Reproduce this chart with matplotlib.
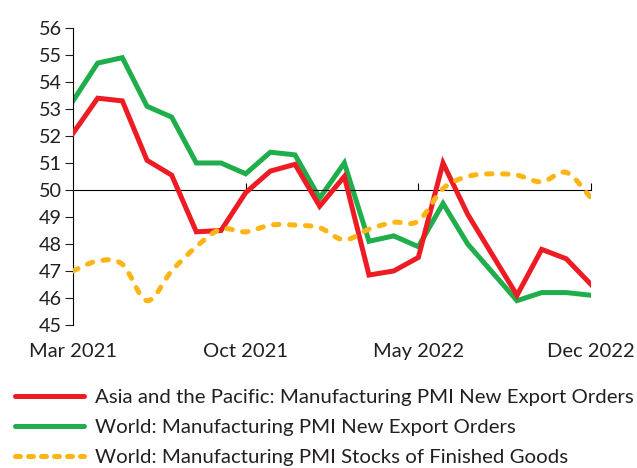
import matplotlib
matplotlib.use("Agg")
import matplotlib.pyplot as plt
from matplotlib.path import Path
from matplotlib.patches import PathPatch
from matplotlib.lines import Line2D
import numpy as np

# Meses Mar 2021 - Dec 2022
months = ["Mar 2021", "Apr 2021", "May 2021", "Jun 2021", "Jul 2021", "Aug 2021",
          "Sep 2021", "Oct 2021", "Nov 2021", "Dec 2021", "Jan 2022", "Feb 2022",
          "Mar 2022", "Apr 2022", "May 2022", "Jun 2022", "Jul 2022", "Aug 2022",
          "Sep 2022", "Oct 2022", "Nov 2022", "Dec 2022"]
asia_export = [52.1, 53.4, 53.3, 51.1, 50.55, 48.45, 48.5, 49.9, 50.7, 50.95, 49.4, 50.5,
               46.85, 47.0, 47.5, 51.0, 49.1, 47.6, 46.1, 47.8, 47.45, 46.5]
world_export = [53.3, 54.7, 54.9, 53.1, 52.7, 51.0, 51.0, 50.6, 51.4, 51.3, 49.7, 51.0,
                48.1, 48.3, 47.9, 49.5, 48.0, 46.95, 45.9, 46.2, 46.2, 46.1]
world_stocks = [47.0, 47.37, 47.25, 45.9, 47.0, 47.9, 48.55, 48.45, 48.7, 48.7, 48.6, 48.15,
                48.55, 48.8, 48.85, 50.05, 50.5, 50.6, 50.55, 50.3, 50.65, 49.7]
tick_idx = [0, 7, 14, 21]
labels = ["Asia and the Pacific: Manufacturing PMI New Export Orders",
          "World: Manufacturing PMI New Export Orders",
          "World: Manufacturing PMI Stocks of Finished Goods"]

RED = "#ED1C24"
GREEN = "#1FAE4B"
YELLOW = "#FDB515"
TXT = "#231F20"

plt.rcParams['font.family'] = ['Lato', 'DejaVu Sans']
plt.rcParams['font.size'] = 14

fig = plt.figure(figsize=(6.37, 4.68), dpi=100)
ax = fig.add_axes([0.1146, 0.3056, 0.8132, 0.6346])
x = np.arange(len(months))

ax.plot(x, asia_export, color=RED, lw=3.6, solid_joinstyle='miter', zorder=3)
ax.plot(x, world_export, color=GREEN, lw=3.6, solid_joinstyle='miter', zorder=2)

# Curva suavizada (Bezier) para la serie de inventarios
pts = np.column_stack([x, world_stocks]).astype(float)
verts = [pts[0]]
codes = [Path.MOVETO]
n = len(pts)
for i in range(n - 1):
    p0 = pts[i - 1] if i > 0 else pts[i]
    p1 = pts[i]
    p2 = pts[i + 1]
    p3 = pts[i + 2] if i + 2 < n else pts[i + 1]
    c1 = p1 + (p2 - p0) / 6.0
    c2 = p2 - (p3 - p1) / 6.0
    verts += [c1, c2, p2]
    codes += [Path.CURVE4] * 3
dash = (0, (1.1, 2.1))
patch = PathPatch(Path(verts, codes), fill=False, edgecolor=YELLOW, lw=3.6,
                  linestyle=dash, capstyle='round', zorder=4)
ax.add_patch(patch)

ax.set_xlim(0, 21)
ax.set_ylim(45, 56)
ax.set_yticks(range(45, 57))

# Eje x en 50
ax.spines['top'].set_visible(False)
ax.spines['right'].set_visible(False)
ax.spines['bottom'].set_position(('data', 50))
ax.spines['bottom'].set_linewidth(0.8)
ax.spines['left'].set_linewidth(0.8)
ax.set_xticks(tick_idx[1:])
ax.tick_params(axis='x', direction='in', length=5, width=0.8, labelbottom=False)
ax.tick_params(axis='y', direction='out', length=6, width=0.8, pad=2,
               labelsize=14.3, colors=TXT)

sec = ax.secondary_xaxis(0)
sec.set_xticks(tick_idx, [months[i] for i in tick_idx])
sec.tick_params(length=0, pad=13, labelsize=14.5, colors=TXT)
sec.spines['bottom'].set_visible(False)

handles = [Line2D([], [], color=RED, lw=3.6, solid_capstyle='round'),
           Line2D([], [], color=GREEN, lw=3.6, solid_capstyle='round'),
           Line2D([], [], color=YELLOW, lw=3.6, linestyle=(0, (1.0, 1.6)),
                  dash_capstyle='round')]
fig.legend(handles, labels, loc='upper left', bbox_to_anchor=(0.0235, 0.170),
           frameon=False, fontsize=14.7, handlelength=3.4, handletextpad=0.5,
           labelspacing=0.64, borderpad=0, borderaxespad=0, labelcolor=TXT)

fig.savefig("out.png", dpi=100)
